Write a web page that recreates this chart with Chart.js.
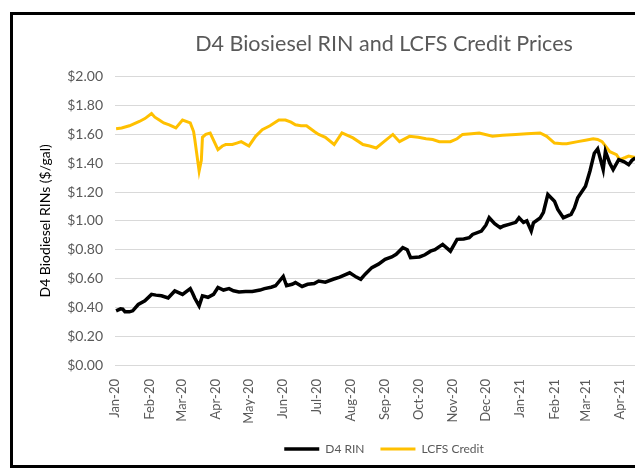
<!DOCTYPE html>
<html>
<head>
<meta charset="utf-8">
<script src="https://cdn.jsdelivr.net/npm/chart.js@4.4.1/dist/chart.umd.min.js"></script>
<style>
  body { margin: 0; background: #fff; overflow: hidden; width: 635px; height: 469px; }
  #frame { position: absolute; left: 10px; top: 12px; width: 742px; height: 450px; border: 3px solid #000; }
  #box { position: absolute; left: 0; top: 0; width: 742px; height: 450px; }
</style>
</head>
<body>
<div id="frame"><div id="box"><canvas id="myChart"></canvas></div></div>
<script>
// month ticks on the x axis
var tickDates = ["2020-01-01","2020-02-01","2020-03-01","2020-04-01","2020-05-01","2020-06-01",
  "2020-07-01","2020-08-01","2020-09-01","2020-10-01","2020-11-01","2020-12-01",
  "2021-01-01","2021-02-01","2021-03-01","2021-04-01","2021-05-01"];
var tickLabels = ["Jan-20","Feb-20","Mar-20","Apr-20","May-20","Jun-20","Jul-20","Aug-20",
  "Sep-20","Oct-20","Nov-20","Dec-20","Jan-21","Feb-21","Mar-21","Apr-21","May-21"];
var yTicks = [0, 0.2, 0.4, 0.6, 0.8, 1.0, 1.2, 1.4, 1.6, 1.8, 2.0];

// D4 RIN ($/gal)
var rinDates = ["2020-01-02","2020-01-06","2020-01-08","2020-01-10","2020-01-14","2020-01-17",
  "2020-01-22","2020-01-28","2020-02-03","2020-02-07","2020-02-12","2020-02-18","2020-02-24",
  "2020-03-02","2020-03-09","2020-03-11","2020-03-13","2020-03-17","2020-03-20","2020-03-25",
  "2020-03-30","2020-04-03","2020-04-08","2020-04-13","2020-04-17","2020-04-22","2020-04-28",
  "2020-05-04","2020-05-11","2020-05-15","2020-05-21","2020-05-25","2020-06-01","2020-06-04",
  "2020-06-09","2020-06-12","2020-06-18","2020-06-23","2020-06-29","2020-07-03","2020-07-09",
  "2020-07-16","2020-07-22","2020-07-31","2020-08-06","2020-08-10","2020-08-14","2020-08-20",
  "2020-08-26","2020-09-01","2020-09-07","2020-09-11","2020-09-17","2020-09-21","2020-09-24",
  "2020-10-02","2020-10-07","2020-10-12","2020-10-16","2020-10-23","2020-10-30","2020-11-05",
  "2020-11-11","2020-11-16","2020-11-19","2020-11-27","2020-12-01","2020-12-04","2020-12-09",
  "2020-12-14","2020-12-17","2020-12-22","2020-12-28","2020-12-31","2021-01-04","2021-01-07",
  "2021-01-11","2021-01-13","2021-01-19","2021-01-22","2021-01-26","2021-02-01","2021-02-04",
  "2021-02-09","2021-02-16","2021-02-19","2021-02-22","2021-03-01","2021-03-05","2021-03-09",
  "2021-03-12","2021-03-17","2021-03-19","2021-03-23","2021-03-26","2021-03-31","2021-04-05",
  "2021-04-09","2021-04-12","2021-04-15"];
var rinValues = [0.376,0.39,0.388,0.37,0.369,0.376,
  0.42,0.445,0.49,0.485,0.48,0.465,0.514,
  0.49,0.53,0.50,0.465,0.41,0.48,0.47,
  0.49,0.538,0.52,0.53,0.515,0.507,0.51,
  0.51,0.52,0.53,0.54,0.55,0.615,0.55,
  0.56,0.572,0.545,0.56,0.565,0.583,0.575,
  0.595,0.61,0.64,0.61,0.595,0.63,0.676,
  0.70,0.733,0.75,0.768,0.814,0.80,0.745,
  0.75,0.765,0.79,0.80,0.837,0.79,0.872,
  0.875,0.883,0.906,0.929,0.97,1.022,0.98,
  0.953,0.965,0.976,0.99,1.022,0.99,1.00,
  0.93,0.987,1.02,1.06,1.183,1.137,1.08,
  1.022,1.045,1.09,1.16,1.24,1.345,1.47,
  1.50,1.356,1.483,1.40,1.356,1.425,1.41,
  1.39,1.42,1.437];

// LCFS credit ($/gal)
var lcfsDates = ["2020-01-02","2020-01-07","2020-01-14","2020-01-23","2020-01-28","2020-02-03",
  "2020-02-06","2020-02-10","2020-02-14","2020-02-19","2020-02-25","2020-03-02","2020-03-09",
  "2020-03-12","2020-03-13","2020-03-17","2020-03-19","2020-03-20","2020-03-23","2020-03-27",
  "2020-04-03","2020-04-07","2020-04-10","2020-04-16","2020-04-20","2020-04-24","2020-05-01",
  "2020-05-07","2020-05-13","2020-05-20","2020-05-28","2020-06-03","2020-06-08","2020-06-12",
  "2020-06-17","2020-06-22","2020-06-29","2020-07-03","2020-07-09","2020-07-17","2020-07-24",
  "2020-08-03","2020-08-12","2020-08-18","2020-08-24","2020-08-31","2020-09-08","2020-09-14",
  "2020-09-23","2020-10-01","2020-10-08","2020-10-14","2020-10-20","2020-10-30","2020-11-05",
  "2020-11-10","2020-11-18","2020-11-25","2020-12-07","2020-12-16","2020-12-28","2021-01-07",
  "2021-01-19","2021-01-25","2021-02-01","2021-02-08","2021-02-12","2021-02-22","2021-03-01",
  "2021-03-08","2021-03-12","2021-03-16","2021-03-23","2021-03-29","2021-04-01","2021-04-06",
  "2021-04-09","2021-04-15"];
var lcfsValues = [1.64,1.645,1.66,1.69,1.71,1.745,
  1.72,1.70,1.68,1.667,1.645,1.70,1.68,
  1.62,1.57,1.345,1.42,1.58,1.60,1.61,
  1.495,1.52,1.53,1.53,1.54,1.55,1.52,
  1.587,1.633,1.66,1.70,1.70,1.685,1.667,
  1.66,1.66,1.62,1.60,1.58,1.53,1.61,
  1.576,1.53,1.52,1.506,1.55,1.60,1.55,
  1.587,1.58,1.57,1.565,1.55,1.55,1.57,
  1.60,1.605,1.61,1.587,1.595,1.60,1.605,
  1.61,1.587,1.54,1.535,1.535,1.55,1.56,
  1.57,1.565,1.55,1.48,1.46,1.425,1.44,
  1.45,1.44];

var day0 = Date.parse("2020-01-01");
function toDay(d) { return (Date.parse(d) - day0) / 864e5; }
function points(dates, values) {
  return dates.map(function (d, i) { return { x: toDay(d), y: values[i] }; });
}
var tickDays = tickDates.map(toDay);

Chart.defaults.font.family = "Lato";
Chart.defaults.color = "#595959";

new Chart("myChart", {
  type: "line",
  data: {
    datasets: [
      {
        label: "D4 RIN",
        data: points(rinDates, rinValues),
        borderColor: "#000000",
        backgroundColor: "#000000",
        borderWidth: 3.5,
        pointRadius: 0,
        fill: false,
      },
      {
        label: "LCFS Credit",
        data: points(lcfsDates, lcfsValues),
        borderColor: "#FFC000",
        backgroundColor: "#FFC000",
        borderWidth: 3,
        pointRadius: 0,
        fill: false,
      },
    ],
  },
  options: {
    responsive: true,
    maintainAspectRatio: false,
    animation: false,
    layout: { padding: 0 },
    plugins: {
      title: {
        display: true,
        text: "D4 Biosiesel RIN and LCFS Credit Prices",
        color: "#595959",
        font: { size: 21.5, weight: "normal" },
        padding: { top: 16, bottom: 20 },
      },
      legend: {
        position: "bottom",
        labels: {
          usePointStyle: true,
          pointStyle: "line",
          pointStyleWidth: 35,
          boxHeight: 12,
          padding: 16,
          color: "#595959",
          font: { size: 12 },
        },
      },
      tooltip: { enabled: false },
    },
    scales: {
      x: {
        type: "linear",
        min: 0,
        max: toDay("2021-05-01"),
        grid: { display: false },
        border: { display: true, color: "#d9d9d9" },
        afterBuildTicks: function (scale) {
          scale.ticks = tickDays.map(function (v) { return { value: v }; });
        },
        afterFit: function (scale) { scale.height = 62; },
        ticks: {
          autoSkip: false,
          minRotation: 90,
          maxRotation: 90,
          padding: 6,
          color: "#595959",
          font: { size: 13 },
          callback: function (value) {
            var i = tickDays.indexOf(value);
            return i >= 0 ? tickLabels[i] : "";
          },
        },
      },
      y: {
        min: 0,
        max: 2,
        afterBuildTicks: function (scale) {
          scale.ticks = yTicks.map(function (v) { return { value: v }; });
        },
        afterFit: function (scale) { scale.width = 102; },
        grid: { color: "#d9d9d9", drawTicks: false },
        border: { display: false },
        ticks: {
          padding: 12,
          color: "#595959",
          font: { size: 14 },
          callback: function (value) { return "$" + value.toFixed(2); },
        },
        title: {
          display: true,
          text: "D4 Biodiesel RINs ($/gal)",
          color: "#000000",
          font: { size: 14 },
          padding: { top: 24, bottom: 4 },
        },
      },
      // empty space on the right, the chart runs past the picture edge
      yRight: {
        position: "right",
        grid: { display: false },
        border: { display: false },
        ticks: { display: false },
        afterFit: function (scale) { scale.width = 102; },
      },
    },
  },
});
</script>
</body>
</html>
